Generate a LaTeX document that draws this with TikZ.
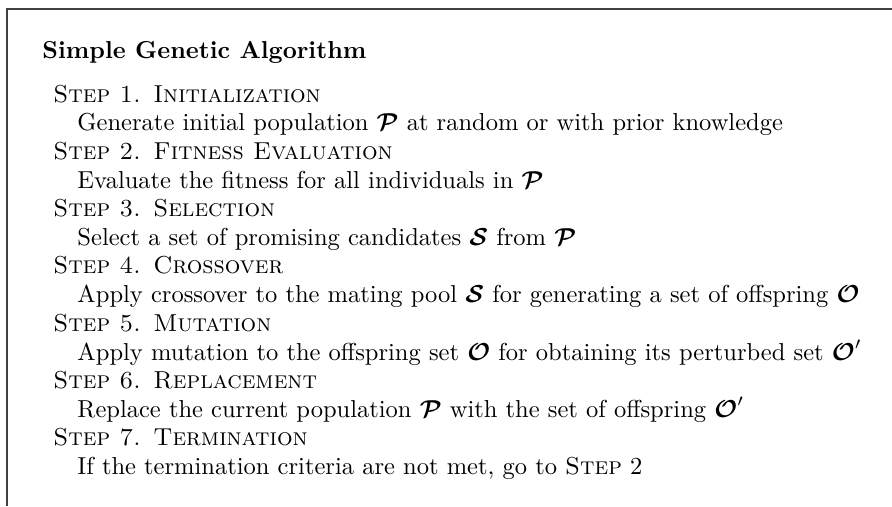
\documentclass[tikz,border=0pt]{standalone}
\usepackage{amssymb,amsmath}
\usepackage{xcolor}

\newcommand{\popP}{\boldsymbol{\mathcal{P}}}
\newcommand{\popS}{\boldsymbol{\mathcal{S}}}
\newcommand{\popO}{\boldsymbol{\mathcal{O}}}

\begin{document}
\begin{tikzpicture}[x=0.408pt,y=-0.408pt,
    steptitle/.style={anchor=base west, inner sep=0pt, text height=7pt, text depth=2pt, font=\scshape},
    stepdesc/.style={anchor=base west, inner sep=0pt, text height=7.5pt, text depth=2pt}]
  \useasboundingbox (0,0) rectangle (892,506);
  % frame: only left and top edges
  \draw[line width=0.8pt, black!75] (7,506) -- (7,9) -- (892,9);
  \node[anchor=base west, inner sep=0pt, font=\bfseries] (title) at (42,58) {Simple Genetic Algorithm};
  \foreach \i/\name/\desc in {
      1/{Initialization}/{Generate initial population $\popP$ at random or with prior knowledge},
      2/{Fitness Evaluation}/{Evaluate the fitness for all individuals in $\popP$},
      3/{Selection}/{Select a set of promising candidates $\popS$ from $\popP$},
      4/{Crossover}/{Apply crossover to the mating pool $\popS$ for generating a set of offspring $\popO$},
      5/{Mutation}/{Apply mutation to the offspring set $\popO$ for obtaining its perturbed set $\popO'$},
      6/{Replacement}/{Replace the current population $\popP$ with the set of offspring $\popO'$},
      7/{Termination}/{If the termination criteria are not met, go to \textsc{Step} 2}} {
    \node[steptitle] (step\i) at (53,{102+(\i-1)*57.3}) {Step \i. \name};
    \node[stepdesc] (desc\i) at (77,{130.8+(\i-1)*57.3}) {\desc};
  }
\end{tikzpicture}
\end{document}
